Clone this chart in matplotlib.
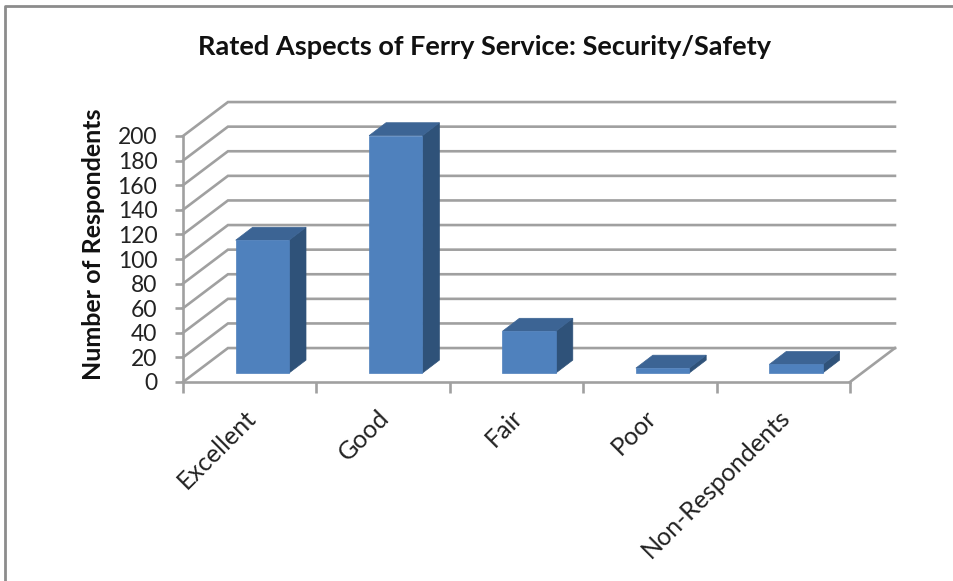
#!/usr/bin/python3

import matplotlib
matplotlib.use("Agg")
import matplotlib.pyplot as plt
from matplotlib.lines import Line2D
from matplotlib.patches import Polygon
from matplotlib.transforms import ScaledTranslation

TITLE = "Rated Aspects of Ferry Service: Security/Safety"
YLABEL = "Number of Respondents"
categories = ["Excellent", "Good", "Fair", "Poor", "Non-Respondents"]
respondents = [108, 193, 34, 4, 7]
y_ticks = list(range(0, 201, 20))

W, H = 954, 581
GRID = "#a0a0a0"
FRONT = "#4f81bd"
TOP = "#3c6494"
SIDE = "#2f5279"
FONT = "Lato"

# fake 3d depth of the chart box, in data units
DEPTH_X = 0.337
DEPTH_Y = 27.6
# bars stand a bit inside the box
BAR_X = 0.095
BAR_Y = 7.3
BAR_W = 0.4
BAR_DX = 0.127
BAR_DY = 10.5


def draw_bar(ax, i, val):
    x0 = i + 0.5 + BAR_X - BAR_W / 2
    x1 = x0 + BAR_W
    y0 = BAR_Y
    y1 = BAR_Y + val
    faces = [
        ([(x1, y0), (x1 + BAR_DX, y0 + BAR_DY), (x1 + BAR_DX, y1 + BAR_DY), (x1, y1)], SIDE),
        ([(x0, y1), (x1, y1), (x1 + BAR_DX, y1 + BAR_DY), (x0 + BAR_DX, y1 + BAR_DY)], TOP),
        ([(x0, y0), (x1, y0), (x1, y1), (x0, y1)], FRONT),
    ]
    for pts, col in faces:
        ax.add_patch(Polygon(pts, closed=True, facecolor=col, edgecolor=col, lw=0.5,
                             clip_on=False, zorder=3))


def start():
    fig = plt.figure(figsize=(W / 100, H / 100), dpi=100, facecolor="white")
    ax = fig.add_axes([183 / W, 1 - 382 / H, (850 - 183) / W, (382 - 136) / H])
    n = len(categories)
    ax.set_xlim(0, n)
    ax.set_ylim(0, 200)
    ax.patch.set_visible(False)

    # back wall and side wall lines
    for v in y_ticks:
        ax.plot([0, DEPTH_X, n + DEPTH_X], [v, v + DEPTH_Y, v + DEPTH_Y],
                color=GRID, lw=1.9, clip_on=False, zorder=1, solid_joinstyle="miter")
    ax.plot([n, n + DEPTH_X], [0, DEPTH_Y], color=GRID, lw=1.9, clip_on=False, zorder=1)

    for i, val in enumerate(respondents):
        draw_bar(ax, i, val)

    for s in ["top", "right"]:
        ax.spines[s].set_visible(False)
    for s in ["left", "bottom"]:
        ax.spines[s].set_color(GRID)
        ax.spines[s].set_linewidth(1.9)

    ax.set_yticks(y_ticks)
    ax.set_yticklabels([str(v) for v in y_ticks], fontsize=16.5, family=FONT, color="#222222")
    ax.tick_params(axis="y", length=6, width=1.9, color=GRID, pad=12.5)

    ax.set_xticks(range(n + 1))
    ax.set_xticklabels([""] * (n + 1))
    ax.tick_params(axis="x", which="major", length=8, width=1.9, color=GRID)
    ax.set_xticks([i + 0.5 for i in range(n)], minor=True)
    ax.set_xticklabels(categories, minor=True, rotation=45, ha="right", rotation_mode="anchor",
                       fontsize=18, family=FONT, color="#222222")
    ax.tick_params(axis="x", which="minor", length=0, pad=17)
    # nudge the slanted labels to the left
    shift = ScaledTranslation(-4 / 72, 0, fig.dpi_scale_trans)
    for lab in ax.get_xticklabels(minor=True):
        lab.set_transform(lab.get_transform() + shift)

    fig.text(485 / W, 1 - 47 / H, TITLE, ha="center", va="center", fontsize=19.5,
             fontweight="bold", family=FONT, color="#111111")
    fig.text(94 / W, 1 - 244 / H, YLABEL, ha="center", va="center", rotation=90,
             fontsize=18, fontweight="bold", family=FONT, color="#111111")

    # picture border, left and top only
    fig.add_artist(Line2D([5 / W, 5 / W, 1], [0, 1 - 6 / H, 1 - 6 / H], color="#8c8c8c", lw=2))

    fig.savefig("out.png", dpi=100)


if __name__ == "__main__": start()
